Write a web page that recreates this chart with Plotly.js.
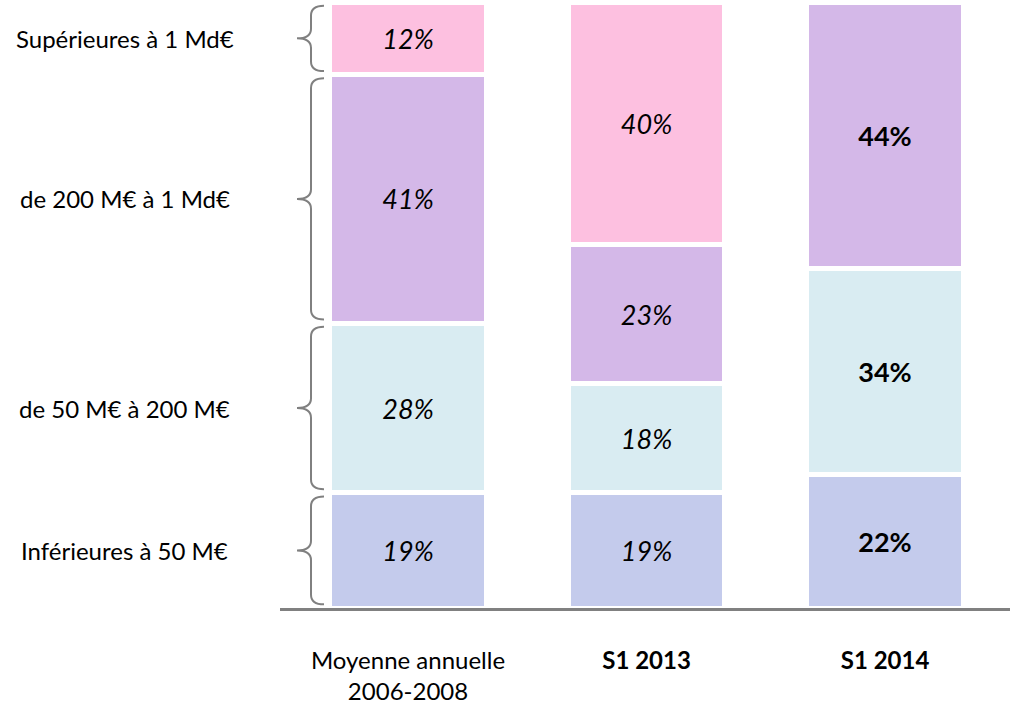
<!DOCTYPE html>
<html>
<head>
<meta charset="utf-8">
<script src="https://cdn.plot.ly/plotly-3.0.1.min.js"></script>
<style>html,body{margin:0;padding:0;background:#fff;}#chart{width:1010px;height:704px;}</style>
</head>
<body>
<div id="chart"></div>
<script>
// ---- data ----
const tickLabels = ['Moyenne annuelle<br>2006-2008', '<b>S1 2013</b>', '<b>S1 2014</b>'];
const segmentNames = ['Inférieures à 50 M€', 'de 50 M€ à 200 M€', 'de 200 M€ à 1 Md€', 'Supérieures à 1 Md€'];
const below50M = [19, 19, 22];
const from50Mto200M = [28, 18, 34];
const from200Mto1Md = [41, 23, 44];
const above1Md = [12, 40, null];
const labelStyle = ['italic', 'italic', 'bold'];

const seriesValues = [below50M, from50Mto200M, from200Mto1Md, above1Md];
const colors = ['#c4cbec', '#d9ecf2', '#d4b8e8', '#fdc0e0'];
const xPos = [0, 1, 2];

const fmt = (v, i) => v == null ? '' : (labelStyle[i] === 'bold' ? '<b>' + v + '%</b>' : '<i>' + v + '%</i>');

const traces = seriesValues.map((vals, k) => ({
  type: 'bar',
  x: xPos,
  y: vals,
  name: segmentNames[k],
  width: 0.658,
  marker: {color: colors[k], line: {color: '#ffffff', width: 5}},
  text: vals.map(fmt),
  textposition: 'inside',
  insidetextanchor: 'middle',
  textangle: 0,
  constraintext: 'none',
  textfont: {family: 'Lato, sans-serif', color: '#000000', size: vals.map((v, i) => labelStyle[i] === 'bold' ? 27 : 27)},
  hoverinfo: 'skip'
}));

// braces and side labels aligned with the first column's segments
const xTip = -0.4654, xStem = -0.4067, xEnd = -0.3522;
const shapes = [];
const annotations = [];
let cum = 0;
seriesValues.forEach((vals, k) => {
  const v = vals[0];
  const y0 = cum, y1 = cum + v;
  cum = y1;
  const yT = y1 - 0.6, yB = y0 + 0.6, yM = (y0 + y1) / 2, r = 1.6;
  shapes.push({
    type: 'path', xref: 'x', yref: 'y',
    path: `M ${xEnd},${yT} Q ${xStem},${yT} ${xStem},${yT - r} L ${xStem},${yM + r} Q ${xStem},${yM} ${xTip},${yM} Q ${xStem},${yM} ${xStem},${yM - r} L ${xStem},${yB + r} Q ${xStem},${yB} ${xEnd},${yB}`,
    line: {color: '#808080', width: 2}
  });
  annotations.push({
    xref: 'paper', yref: 'y', x: -0.213, y: yM,
    xanchor: 'center', yanchor: 'middle', showarrow: false,
    text: segmentNames[k],
    font: {family: 'Lato, sans-serif', size: 24, color: '#000000'}
  });
});

const layout = {
  width: 1010, height: 704,
  margin: {l: 280, r: 0, t: 2, b: 96, pad: 0},
  paper_bgcolor: '#ffffff', plot_bgcolor: '#ffffff',
  barmode: 'stack',
  showlegend: false,
  xaxis: {
    range: [-0.5367, 2.524],
    tickvals: xPos, ticktext: tickLabels,
    showline: true, linecolor: '#808080', linewidth: 3,
    ticks: 'outside', ticklen: 29, tickcolor: 'rgba(0,0,0,0)',
    tickfont: {family: 'Lato, sans-serif', size: 24, color: '#000000'},
    showgrid: false, zeroline: false, fixedrange: true
  },
  yaxis: {
    range: [0, 100],
    showticklabels: false, showgrid: false, zeroline: false, showline: false, ticks: '', fixedrange: true
  },
  shapes: shapes,
  annotations: annotations
};

Plotly.newPlot('chart', traces, layout, {displayModeBar: false, staticPlot: true});
</script>
</body>
</html>
